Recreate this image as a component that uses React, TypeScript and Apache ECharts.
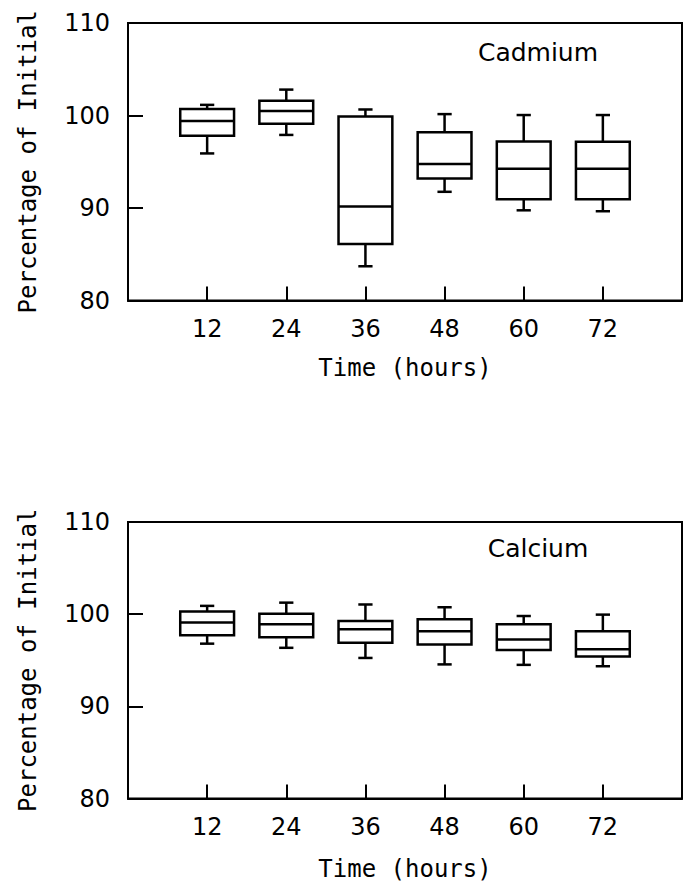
import React, { useEffect, useRef } from "react";
import * as echarts from "echarts";

const hours = [12, 24, 36, 48, 60, 72];
const xTickValues = [12, 24, 36, 48, 60, 72];
const yTickValues = [80, 90, 100, 110];

const cadmiumMin = [95.9, 97.9, 83.7, 91.75, 89.75, 89.65];
const cadmiumQ1 = [97.8, 99.1, 86.1, 93.2, 90.95, 90.95];
const cadmiumMedian = [99.4, 100.5, 90.15, 94.75, 94.25, 94.25];
const cadmiumQ3 = [100.7, 101.6, 99.9, 98.2, 97.2, 97.15];
const cadmiumMax = [101.15, 102.8, 100.65, 100.15, 100.05, 100.05];

const calciumMin = [96.8, 96.35, 95.25, 94.55, 94.5, 94.35];
const calciumQ1 = [97.7, 97.5, 96.9, 96.7, 96.1, 95.4];
const calciumMedian = [99.1, 98.9, 98.35, 98.15, 97.25, 96.2];
const calciumQ3 = [100.3, 100.05, 99.25, 99.45, 98.9, 98.15];
const calciumMax = [100.9, 101.25, 101.05, 100.75, 99.8, 99.95];

const SANS = "DejaVu Sans";
const MONO = "DejaVu Sans Mono";

function boxData(mn: number[], q1: number[], md: number[], q3: number[], mx: number[]) {
  return hours.map((h, i) => [h, mn[i], q1[i], md[i], q3[i], mx[i]]);
}

function renderBox(params: any, api: any) {
  const x = api.value(0);
  const lo = api.coord([x, api.value(1)]);
  const q1 = api.coord([x, api.value(2)]);
  const med = api.coord([x, api.value(3)]);
  const q3 = api.coord([x, api.value(4)]);
  const hi = api.coord([x, api.value(5)]);
  const step = api.size([12, 0])[0];
  const boxW = step * 0.68;
  const capW = step * 0.18;
  const cx = lo[0];
  const style = { stroke: "#000", lineWidth: 2.5, fill: "none" };
  return {
    type: "group",
    children: [
      { type: "line", shape: { x1: cx, y1: hi[1], x2: cx, y2: q3[1] }, style },
      { type: "line", shape: { x1: cx, y1: q1[1], x2: cx, y2: lo[1] }, style },
      { type: "line", shape: { x1: cx - capW / 2, y1: hi[1], x2: cx + capW / 2, y2: hi[1] }, style },
      { type: "line", shape: { x1: cx - capW / 2, y1: lo[1], x2: cx + capW / 2, y2: lo[1] }, style },
      {
        type: "rect",
        shape: { x: cx - boxW / 2, y: q3[1], width: boxW, height: q1[1] - q3[1] },
        style: { stroke: "#000", lineWidth: 2.5, fill: "#fff" },
      },
      { type: "line", shape: { x1: cx - boxW / 2, y1: med[1], x2: cx + boxW / 2, y2: med[1] }, style },
    ],
  };
}

function makeX(gridIndex: number, nameGap: number) {
  return {
    type: "value",
    gridIndex,
    min: 0,
    max: 84,
    interval: 12,
    name: "Time (hours)",
    nameLocation: "middle",
    nameGap,
    nameTextStyle: { fontFamily: MONO, fontSize: 24, color: "#000" },
    axisLine: { show: true, lineStyle: { color: "#000", width: 2 } },
    axisTick: { show: true, inside: true, length: 14, customValues: xTickValues, lineStyle: { color: "#000", width: 2 } },
    axisLabel: {
      customValues: xTickValues,
      fontFamily: SANS,
      fontSize: 24,
      color: "#000",
      margin: 16,
      formatter: (v: number) => (xTickValues.indexOf(v) >= 0 ? String(v) : ""),
    },
    splitLine: { show: false },
  };
}

function makeY(gridIndex: number) {
  return {
    type: "value",
    gridIndex,
    min: 80,
    max: 110,
    interval: 10,
    name: "Percentage of Initial",
    nameLocation: "middle",
    nameGap: 88,
    nameRotate: 90,
    nameTextStyle: { fontFamily: MONO, fontSize: 24, color: "#000" },
    axisLine: { show: true, lineStyle: { color: "#000", width: 2 } },
    axisTick: { show: true, inside: true, length: 15, lineStyle: { color: "#000", width: 2 } },
    axisLabel: {
      fontFamily: SANS,
      fontSize: 24,
      color: "#000",
      margin: 18,
      formatter: (v: number) => (yTickValues.indexOf(v) >= 0 ? String(v) : ""),
    },
    splitLine: { show: false },
  };
}

export default function App() {
  const ref = useRef<HTMLDivElement>(null);
  useEffect(() => {
    document.body.style.margin = "0";
    if (!ref.current) return;
    const chart = echarts.init(ref.current, null, { renderer: "svg" });
    chart.setOption({
      animation: false,
      backgroundColor: "#fff",
      grid: [
        { left: 128, top: 23, width: 554, height: 277.5, show: true, borderColor: "#000", borderWidth: 2, backgroundColor: "transparent" },
        { left: 128, top: 522, width: 554, height: 276.5, show: true, borderColor: "#000", borderWidth: 2, backgroundColor: "transparent" },
      ],
      xAxis: [makeX(0, 55), makeX(1, 58)],
      yAxis: [makeY(0), makeY(1)],
      graphic: [
        {
          type: "text",
          x: 538,
          y: 52,
          style: { text: "Cadmium", fontFamily: SANS, fontSize: 25, fill: "#000", textAlign: "center", textVerticalAlign: "middle" },
        },
        {
          type: "text",
          x: 538,
          y: 548,
          style: { text: "Calcium", fontFamily: SANS, fontSize: 25, fill: "#000", textAlign: "center", textVerticalAlign: "middle" },
        },
      ],
      series: [
        {
          type: "custom",
          name: "Cadmium",
          xAxisIndex: 0,
          yAxisIndex: 0,
          renderItem: renderBox,
          encode: { x: 0, y: [1, 2, 3, 4, 5] },
          data: boxData(cadmiumMin, cadmiumQ1, cadmiumMedian, cadmiumQ3, cadmiumMax),
        },
        {
          type: "custom",
          name: "Calcium",
          xAxisIndex: 1,
          yAxisIndex: 1,
          renderItem: renderBox,
          encode: { x: 0, y: [1, 2, 3, 4, 5] },
          data: boxData(calciumMin, calciumQ1, calciumMedian, calciumQ3, calciumMax),
        },
      ],
    });
    return () => chart.dispose();
  }, []);
  return <div ref={ref} style={{ width: 684, height: 888 }} />;
}
